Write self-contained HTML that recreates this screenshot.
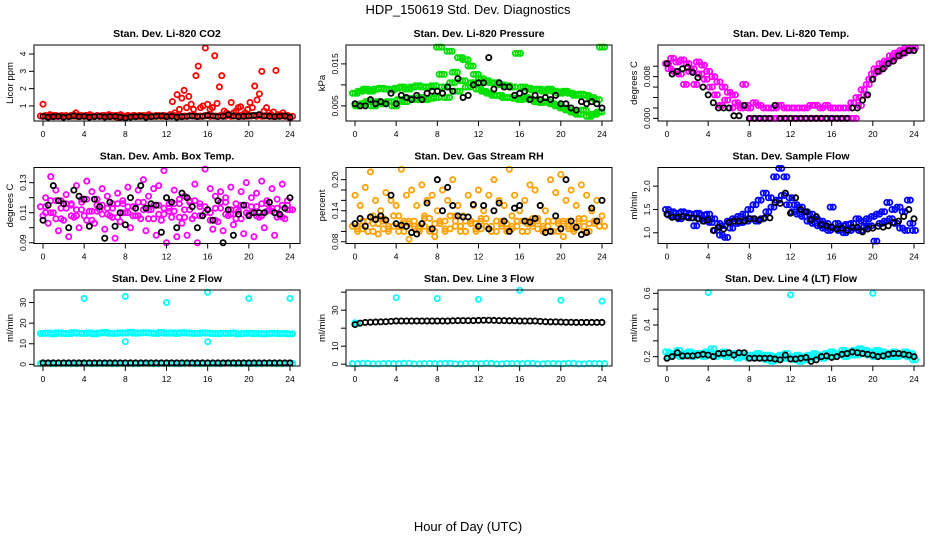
<!DOCTYPE html>
<html><head><meta charset="utf-8"><style>
html,body{margin:0;padding:0;background:#fff;}
svg{display:block;font-family:"Liberation Sans",sans-serif;}
</style></head><body>
<svg id="chart" width="936" height="540" viewBox="0 0 936 540" xmlns="http://www.w3.org/2000/svg">
<text x="468" y="14" text-anchor="middle" font-size="13">HDP_150619  Std. Dev. Diagnostics</text>
<text x="468" y="531" text-anchor="middle" font-size="13">Hour of Day (UTC)</text>
<g id="panels"></g>
</svg>
<script>
const xTicks = [0,4,8,12,16,20,24];
// Panel 1 CO2
const co2Red = [1.1,0.45,0.4,0.5,0.4,0.45,0.4,0.42,0.45,0.4,0.42,0.4,0.45,0.5,0.6,0.45,0.4,0.42,0.45,0.4,0.5,0.42,0.4,0.45,0.4,0.42,0.45,0.4,0.5,0.42,0.4,0.45,0.3,0.5,0.42,0.4,0.45,0.4,0.42,0.45,0.4,0.45,0.42,0.4,0.45,0.5,0.42,0.4,0.45,0.42,0.4,0.45,0.4,0.42,0.5,1.25,0.6,1.65,0.8,1.45,1.9,0.9,1.55,1.1,0.8,2.75,3.3,0.9,1.0,4.35,1.1,0.8,0.9,3.9,1.15,2.1,2.75,0.7,0.6,0.5,1.2,0.6,0.7,0.9,0.95,0.5,0.6,0.8,1.2,0.9,2.15,1.35,1.7,3.0,0.7,0.9,0.6,0.5,0.65,3.05,0.5,0.45,0.6,0.4,0.45,0.3];
const co2Base = [0.42,0.4,0.45,0.4,0.42,0.45,0.4,0.42,0.45,0.4,0.42,0.45,0.4,0.42,0.45,0.4,0.42,0.45,0.4,0.42,0.45,0.4,0.42,0.45,0.4,0.42,0.45,0.4,0.42,0.45,0.4,0.42,0.45,0.4,0.42,0.45,0.4,0.42,0.45,0.4,0.42,0.45,0.4,0.42,0.45,0.4,0.42,0.45,0.4];
const co2Black = [0.4,0.35,0.38,0.4,0.35,0.38,0.42,0.38,0.4,0.35,0.38,0.4,0.36,0.38,0.4,0.35,0.3,0.36,0.38,0.4,0.35,0.38,0.4,0.42,0.38,0.4,0.35,0.38,0.4,0.42,0.38,0.4,0.45,0.42,0.38,0.4,0.5,0.42,0.38,0.4,0.42,0.45,0.5,0.42,0.4,0.38,0.4,0.42,0.35];
// Panel 2 pressure
const presGreen = [0.008,0.005,0.0085,0.0055,0.009,0.006,0.0085,0.005,0.009,0.006,0.0092,0.0055,0.009,0.006,0.0088,0.005,0.0092,0.0065,0.0095,0.006,0.009,0.0068,0.0095,0.0065,0.0098,0.007,0.0095,0.0065,0.0095,0.0068,0.0098,0.007,0.019,0.0125,0.0095,0.007,0.018,0.0105,0.013,0.0085,0.0165,0.011,0.016,0.0095,0.0145,0.0105,0.0125,0.009,0.0115,0.0085,0.011,0.008,0.0105,0.0075,0.0105,0.0075,0.01,0.007,0.0098,0.007,0.0095,0.0068,0.0175,0.0065,0.0095,0.007,0.0092,0.0065,0.0088,0.006,0.009,0.0058,0.0085,0.006,0.009,0.0055,0.0085,0.005,0.008,0.0045,0.0085,0.004,0.008,0.0035,0.0075,0.003,0.0078,0.004,0.0075,0.0025,0.007,0.003,0.0065,0.0035,0.019];
const presBlack = [0.0055,0.005,0.005,0.0065,0.0055,0.006,0.0055,0.008,0.0055,0.0075,0.007,0.0065,0.0075,0.0065,0.008,0.0085,0.0085,0.008,0.0095,0.0085,0.0115,0.007,0.0075,0.01,0.0105,0.0105,0.0165,0.009,0.0105,0.0095,0.0095,0.0075,0.008,0.0085,0.0065,0.0075,0.0065,0.007,0.0065,0.0075,0.0055,0.0055,0.0045,0.004,0.006,0.0055,0.006,0.0055,0.0045];
// Panel 3 Li-820 temp
const tempMag = [0.0105,0.0095,0.0115,0.009,0.0108,0.0085,0.0112,0.0065,0.0105,0.009,0.0095,0.0065,0.0108,0.0085,0.0102,0.0075,0.009,0.006,0.008,0.0045,0.007,0.0025,0.006,0.0035,0.005,0.002,0.0045,0.003,0.0025,0.002,0.0065,0.0025,0.002,0,0.003,0,0.0025,0,0.002,0,0.002,0,0.002,0,0.0025,0,0.002,0,0.002,0,0.002,0,0.002,0,0.002,0,0.0025,0,0.0025,0,0.002,0,0.0025,0,0.002,0,0.002,0,0.002,0,0.002,0,0.003,0,0.004,0.0025,0.0055,0.0045,0.0065,0.0075,0.0085,0.0095,0.009,0.0105,0.0098,0.011,0.0108,0.012,0.0115,0.0125,0.012,0.013,0.0125,0.0135,0.013,0.0135,0.0135];
const tempBlack = [0.0105,0.0085,0.009,0.0095,0.0098,0.0088,0.0078,0.006,0.0045,0.003,0.002,0.002,0.002,0.0005,0.0005,0.0025,0,0,0,0,0,0.0025,0,0,0,0,0,0,0,0,0,0,0,0,0,0,0.002,0.002,0.0035,0.0045,0.0075,0.009,0.0095,0.0105,0.011,0.012,0.0125,0.013,0.013];
// Panel 4 amb box temp
const ambMag = [0.108,0.12,0.103,0.134,0.11,0.125,0.098,0.118,0.105,0.122,0.094,0.115,0.107,0.128,0.1,0.117,0.108,0.131,0.111,0.124,0.103,0.119,0.112,0.126,0.099,0.121,0.108,0.116,0.093,0.123,0.104,0.118,0.11,0.127,0.1,0.114,0.108,0.125,0.106,0.132,0.098,0.121,0.112,0.126,0.095,0.128,0.105,0.138,0.09,0.116,0.107,0.125,0.094,0.119,0.103,0.121,0.095,0.117,0.106,0.129,0.09,0.116,0.108,0.139,0.112,0.126,0.099,0.121,0.104,0.124,0.098,0.12,0.108,0.127,0.102,0.116,0.111,0.124,0.096,0.13,0.109,0.12,0.094,0.123,0.107,0.131,0.1,0.118,0.112,0.126,0.095,0.119,0.108,0.129,0.106,0.118,0.112];
const ambMag2 = [0.114,0.11,0.118,0.106,0.113,0.116,0.108,0.112,0.119,0.105,0.111,0.115,0.109,0.113,0.107,0.116,0.11,0.114,0.108,0.117,0.112,0.106,0.115,0.109,0.113,0.111,0.116,0.107,0.112,0.118,0.108,0.114,0.11,0.105,0.113,0.117,0.109,0.112,0.106,0.115,0.11,0.114,0.108,0.116,0.111,0.113,0.107,0.115,0.112];
const ambBlack = [0.105,0.115,0.128,0.118,0.116,0.1,0.125,0.121,0.119,0.101,0.119,0.114,0.093,0.117,0.101,0.11,0.102,0.12,0.113,0.128,0.113,0.116,0.115,0.097,0.12,0.117,0.1,0.123,0.12,0.114,0.1,0.108,0.112,0.105,0.118,0.09,0.112,0.095,0.109,0.115,0.108,0.11,0.11,0.11,0.117,0.11,0.109,0.113,0.12];
// Panel 5 gas stream RH
const rhOrange = [0.17,0.1,0.15,0.12,0.185,0.1,0.215,0.13,0.16,0.095,0.14,0.12,0.175,0.1,0.16,0.13,0.15,0.11,0.22,0.12,0.17,0.085,0.18,0.11,0.15,0.1,0.19,0.13,0.16,0.105,0.17,0.09,0.14,0.12,0.18,0.1,0.16,0.13,0.2,0.12,0.15,0.11,0.13,0.1,0.17,0.12,0.15,0.1,0.18,0.12,0.14,0.11,0.17,0.1,0.2,0.12,0.16,0.11,0.15,0.1,0.22,0.13,0.17,0.12,0.14,0.1,0.16,0.12,0.19,0.11,0.18,0.12,0.15,0.1,0.14,0.12,0.2,0.1,0.175,0.12,0.21,0.09,0.16,0.11,0.18,0.1,0.15,0.12,0.19,0.11,0.17,0.1,0.14,0.12,0.16,0.11,0.13];
const rhOrange2 = [0.11,0.105,0.12,0.1,0.115,0.125,0.105,0.11,0.13,0.1,0.115,0.12,0.105,0.11,0.125,0.1,0.115,0.12,0.105,0.13,0.11,0.1,0.12,0.115,0.105,0.125,0.11,0.1,0.12,0.115,0.105,0.11,0.12,0.1,0.115,0.125,0.105,0.11,0.12,0.1,0.115,0.12,0.105,0.11,0.125,0.1,0.115,0.12,0.11];
const rhBlack = [0.115,0.125,0.11,0.128,0.123,0.13,0.122,0.17,0.115,0.112,0.11,0.098,0.095,0.115,0.155,0.105,0.2,0.14,0.185,0.15,0.13,0.128,0.128,0.152,0.11,0.15,0.105,0.14,0.155,0.12,0.1,0.145,0.15,0.12,0.118,0.125,0.15,0.098,0.1,0.13,0.105,0.2,0.12,0.108,0.094,0.098,0.145,0.12,0.16];
// Panel 6 sample flow
const flowBlue = [1.5,1.38,1.45,1.35,1.42,1.3,1.45,1.35,1.42,1.32,1.4,1.15,1.42,1.3,1.38,1.25,1.4,1.22,1.3,1.05,1.2,0.95,1.15,0.9,1.25,1.1,1.3,1.2,1.35,1.22,1.4,1.25,1.5,1.3,1.6,1.25,1.7,1.3,1.85,1.45,1.75,1.55,2.2,1.7,2.38,1.8,2.2,1.6,1.75,1.45,1.6,1.4,1.55,1.35,1.45,1.25,1.4,1.2,1.3,1.15,1.25,1.1,1.2,1.05,1.55,1.1,1.2,1.05,1.15,1.0,1.18,1.05,1.2,1.1,1.3,1.05,1.25,1.12,1.3,1.15,1.35,0.82,1.4,1.2,1.45,1.25,1.65,1.3,1.5,1.2,1.55,1.1,1.45,1.05,1.7,1.2,1.05];
const flowBlack = [1.4,1.33,1.33,1.35,1.33,1.32,1.3,1.25,1.28,1.05,1.12,1.08,1.22,1.25,1.25,1.26,1.3,1.3,1.28,1.32,1.32,1.65,1.63,1.85,1.42,1.75,1.5,1.45,1.28,1.35,1.18,1.15,1.12,1.08,1.1,1.05,1.12,1.12,1.02,1.08,1.1,1.14,1.12,1.15,1.22,1.25,1.35,1.5,1.3];
// Panel 7 line 2 flow
const l2Band = [15,15.2,14.8,15.3,15,14.9,15.4,15.1,15,15.3,14.8,15.2,15.5,15.1,15,15.3,15.2,15.6,15.1,15.3,15.4,15.2,15,15.5,15.1,15.3,15,15.4,15.2,15.1,15,15.3,15.2,15,14.9,15.1,15,15.2,14.8,15,15.1,14.9,15,14.8,15,15.1,14.9,15,14.8];
const l2Low = [0.5,0.3,0.4,0.3,0.5,0.3,0.4,0.3,0.4,0.3,0.5,0.3,0.4,0.3,0.5,0.3,0.4,0.3,0.5,0.3,0.4,0.3,0.4,0.3,0.5];
const l2OutHours = [4,8,8,12,16,16,20,24];
const l2OutVals = [32,33,11,30,35,11,32,32];
const l2Black = [0.7,0.7,0.7,0.7,0.7,0.7,0.7,0.7,0.7,0.7,0.7,0.7,0.7,0.7,0.7,0.7,0.7,0.7,0.7,0.7,0.7,0.7,0.7,0.7,0.7,0.7,0.7,0.7,0.7,0.7,0.7,0.7,0.7,0.7,0.7,0.7,0.7,0.7,0.7,0.7,0.7,0.7,0.7,0.7,0.7,0.7,0.7,0.7,0.7];
// Panel 8 line 3 flow
const l3Low = [0.3,0.5,0.2,0.4,0.3,0.5,0.2,0.4,0.3,0.5,0.2,0.4,0.3,0.5,0.2,0.4,0.3,0.5,0.2,0.4,0.3,0.5,0.2,0.4,0.3];
const l3OutHours = [0,0.25,4,8,12,16,20,24];
const l3OutVals = [23,22.5,37,36.5,36,41,35.5,35];
const l3Black = [22,22.8,23.2,23.3,23.4,23.5,23.6,23.8,24,24,24,24,24,24,24,24,24,24,24,24.1,24.2,24.2,24.2,24.2,24.3,24.4,24.4,24.3,24.2,24.2,24.1,24.1,24,24,24,24,23.8,23.6,23.5,23.5,23.4,23.3,23.3,23.2,23.2,23.2,23.2,23.2,23.2];
// Panel 9 line 4 flow
const l4Cyan = [0.23,0.2,0.22,0.21,0.24,0.2,0.22,0.21,0.23,0.2,0.22,0.21,0.22,0.2,0.23,0.21,0.25,0.2,0.22,0.21,0.23,0.2,0.22,0.21,0.22,0.19,0.22,0.2,0.21,0.19,0.21,0.2,0.22,0.19,0.21,0.18,0.21,0.17,0.2,0.18,0.21,0.19,0.22,0.19,0.2,0.18,0.21,0.17,0.2,0.18,0.21,0.19,0.22,0.2,0.21,0.19,0.22,0.2,0.23,0.2,0.22,0.21,0.24,0.2,0.23,0.21,0.24,0.21,0.25,0.22,0.24,0.21,0.23,0.2,0.24,0.21,0.23,0.2,0.22,0.2,0.23,0.2,0.22,0.21,0.23,0.2,0.22,0.18];
const l4OutHours = [4,12,20];
const l4OutVals = [0.605,0.59,0.6];
const l4Black = [0.19,0.2,0.225,0.205,0.205,0.205,0.21,0.215,0.21,0.2,0.22,0.22,0.225,0.21,0.225,0.225,0.19,0.19,0.19,0.19,0.19,0.185,0.18,0.21,0.185,0.185,0.19,0.195,0.17,0.18,0.2,0.205,0.195,0.2,0.215,0.22,0.23,0.225,0.22,0.215,0.21,0.2,0.205,0.215,0.22,0.22,0.215,0.21,0.2];

const NS = "http://www.w3.org/2000/svg";
const root = document.getElementById('panels');
const colX = [34,346,658], rowY = [45,167.5,290];
const BW = 266, BH = 76;
function el(tag, attrs, parent){const e=document.createElementNS(NS,tag);for(const k in attrs)e.setAttribute(k,attrs[k]);parent.appendChild(e);return e;}

const panels = [
 {slug:'co2',title:'Stan. Dev. Li-820 CO2',yl:'Licor ppm',ylim:[0.13,4.52],ticks:[1,2,3,4],labels:[1,2,3,4],series:[{v:co2Red,c:'#ff0000'},{v:co2Base,c:'#ff0000',sm:[-2.6,2.6]}],black:co2Black},
 {slug:'pressure',title:'Stan. Dev. Li-820 Pressure',yl:'kPa',ylim:[0.0014,0.0195],ticks:[0.005,0.01,0.015],labels:['0.005','','0.015'],series:[{v:presGreen,c:'#00e000',sm:[-2.6,0,2.6]}],black:presBlack},
 {slug:'li820-temp',title:'Stan. Dev. Li-820 Temp.',yl:'degrees C',ylim:[-0.0005,0.01406],ticks:[0,0.002,0.004,0.006,0.008,0.01],labels:['0.000','','','','0.008',''],series:[{v:tempMag,c:'#ff00ff',sm:[-1.5,1.5]}],black:tempBlack},
 {slug:'amb-box-temp',title:'Stan. Dev. Amb. Box Temp.',yl:'degrees C',ylim:[0.0895,0.1401],ticks:[0.09,0.1,0.11,0.12,0.13],labels:['0.09','','0.11','','0.13'],series:[{v:ambMag,c:'#ff00ff'},{v:ambMag2,c:'#ff00ff',sm:[-2.6,2.6]}],black:ambBlack},
 {slug:'gas-stream-rh',title:'Stan. Dev. Gas Stream RH',yl:'percent',ylim:[0.0767,0.2235],ticks:[0.08,0.1,0.12,0.14,0.16,0.18,0.2],labels:['0.08','','','0.14','','','0.20'],series:[{v:rhOrange,c:'#ffa000'},{v:rhOrange2,c:'#ffa000',sm:[-2.6,2.6]}],black:rhBlack},
 {slug:'sample-flow',title:'Stan. Dev. Sample Flow',yl:'ml/min',ylim:[0.77,2.4],ticks:[1,1.5,2],labels:['1.0','1.5','2.0'],series:[{v:flowBlue,c:'#0000ff',sm:[-1.5,1.5]}],black:flowBlack},
 {slug:'line2-flow',title:'Stan. Dev. Line 2 Flow',yl:'ml/min',ylim:[-0.8,36.1],ticks:[0,10,20,30],labels:['0','10','20','30'],series:[{v:l2Band,c:'#00ffff',sm:[-2.6,0,2.6]},{v:l2Low,c:'#00ffff',sm:[-2.6,2.6]}],out:{h:l2OutHours,v:l2OutVals},black:l2Black},
 {slug:'line3-flow',title:'Stan. Dev. Line 3 Flow',yl:'ml/min',ylim:[-1,41.2],ticks:[0,10,20,30,40],labels:['0','10','','30',''],series:[{v:l3Low,c:'#00ffff',sm:[-2.6,2.6]}],out:{h:l3OutHours,v:l3OutVals},black:l3Black},
 {slug:'line4-flow',title:'Stan. Dev. Line 4 (LT) Flow',yl:'ml/min',ylim:[0.141,0.621],ticks:[0.2,0.3,0.4,0.5,0.6],labels:['0.2','','0.4','','0.6'],series:[{v:l4Cyan,c:'#00ffff',sm:[-1.5,1.5]}],out:{h:l4OutHours,v:l4OutVals},black:l4Black}
];

panels.forEach((p,i)=>{
  const bx = colX[i%3], by = rowY[Math.floor(i/3)];
  const xs = h => bx + 9 + h*(247/24);
  const ys = v => by + BH - (v - p.ylim[0])/(p.ylim[1]-p.ylim[0])*BH;
  const g = el('g',{},root);
  
  
  const t = el('text',{x:bx+BW/2,y:by-8,'text-anchor':'middle','font-size':'10.5','font-weight':'bold'},g);
  t.textContent = p.title;
  
  
  const yl = el('text',{x:0,y:0,'text-anchor':'middle','font-size':'9.5',transform:`translate(${bx-21},${by+BH/2}) rotate(-90)`},g);
  yl.textContent = p.yl;
  
  
  const pg = el('g',{fill:'none','stroke-width':'1.8'},g);
  
  
  p.series.forEach(s=>{
    const offs = s.sm || [0];
    s.v.forEach((v,k)=>{
      const h = k*24/(s.v.length-1);
      offs.forEach(dx=>{
        const c = el('circle',{cx:xs(h)+dx,cy:ys(v),r:2.6,stroke:s.c},pg);
        
        
      });
    });
  });
  if(p.out){p.out.h.forEach((h,k)=>{
    const c = el('circle',{cx:xs(h),cy:ys(p.out.v[k]),r:2.6,stroke:'#00ffff'},pg);
    
    
  });}
  p.black.forEach((v,k)=>{
    const h = k*24/(p.black.length-1);
    const c = el('circle',{cx:xs(h),cy:ys(v),r:2.6,stroke:'#000'},pg);
    
    
  });
  const b = el('rect',{x:bx,y:by,width:BW,height:BH,fill:'none',stroke:'#000','stroke-width':'1'},g);
  
  
  xTicks.forEach(h=>{
    el('line',{x1:xs(h),x2:xs(h),y1:by+BH,y2:by+BH+5,stroke:'#000'},g);
    const tl = el('text',{x:xs(h),y:by+BH+16,'text-anchor':'middle','font-size':'8.5'},g);
    tl.textContent = h;
    
    
  });
  p.ticks.forEach((v,k)=>{
    el('line',{x1:bx,x2:bx-5,y1:ys(v),y2:ys(v),stroke:'#000'},g);
    if(p.labels[k]!==''){
      const tl = el('text',{x:0,y:0,'text-anchor':'middle','font-size':'8.5',transform:`translate(${bx-8},${ys(v)}) rotate(-90)`},g);
      tl.textContent = p.labels[k];
      
      
    }
  });
});
</script>
</body></html>
